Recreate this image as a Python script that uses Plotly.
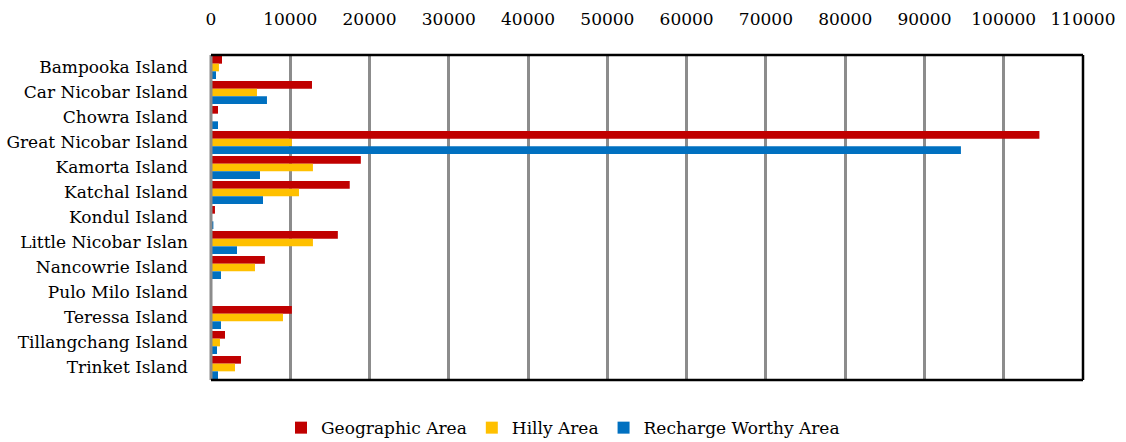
import plotly.graph_objects as go

islands = [
    "Bampooka Island", "Car Nicobar Island", "Chowra Island", "Great Nicobar Island",
    "Kamorta Island", "Katchal Island", "Kondul Island", "Little Nicobar Islan",
    "Nancowrie Island", "Pulo Milo Island", "Teressa Island", "Tillangchang Island",
    "Trinket Island",
]
geographic_area = [1390, 12740, 880, 104500, 18900, 17500, 500, 16000, 6800, 100, 10200, 1770, 3780]
hilly_area = [1000, 5800, 0, 10200, 12860, 11100, 100, 12860, 5550, 0, 9080, 1130, 3030]
recharge_worthy_area = [630, 7060, 880, 94600, 6180, 6560, 300, 3280, 1260, 50, 1260, 760, 880]

x_ticks = list(range(0, 110001, 10000))

FONT = "DejaVu Serif"

fig = go.Figure()
for name, vals, color in [
    ("Geographic Area", geographic_area, "#C00000"),
    ("Hilly Area", hilly_area, "#FFC000"),
    ("Recharge Worthy Area", recharge_worthy_area, "#0070C0"),
]:
    fig.add_trace(go.Bar(
        y=islands, x=vals, name=name, orientation="h",
        marker=dict(color=color, line=dict(width=0)),
    ))

fig.update_layout(
    width=1126, height=442,
    margin=dict(l=211, r=43, t=55, b=62, autoexpand=False),
    paper_bgcolor="white", plot_bgcolor="white",
    barmode="group", bargap=0.08, bargroupgap=0,
    font=dict(family=FONT, size=17, color="black"),
    showlegend=True,
    legend=dict(orientation="h", xref="container", x=0.5, xanchor="center",
                y=-0.148, yanchor="middle",
                font=dict(family=FONT, size=17), traceorder="normal"),
    xaxis=dict(
        side="top", range=[0, 110000], tickvals=x_ticks, ticktext=[str(v) for v in x_ticks],
        showgrid=True, gridcolor="#8c8c8c", gridwidth=3, zeroline=False,
        showline=False, ticks="", ticklabelstandoff=26,
    ),
    yaxis=dict(
        autorange="reversed", showgrid=False, zeroline=False, showline=False,
        ticks="", ticklabelstandoff=22,
    ),
)

# plot frame: gray category-axis line on the left, black edges elsewhere
fig.add_shape(type="line", xref="paper", yref="paper", x0=0, x1=0, y0=0, y1=1,
              line=dict(color="#8c8c8c", width=3), layer="above")
for x0, y0, x1, y1 in [(0, 1, 1, 1), (1, 0, 1, 1), (0, 0, 1, 0)]:
    fig.add_shape(type="line", xref="paper", yref="paper", x0=x0, x1=x1, y0=y0, y1=y1,
                  line=dict(color="black", width=2.5), layer="above")

fig.write_html("out.html")
